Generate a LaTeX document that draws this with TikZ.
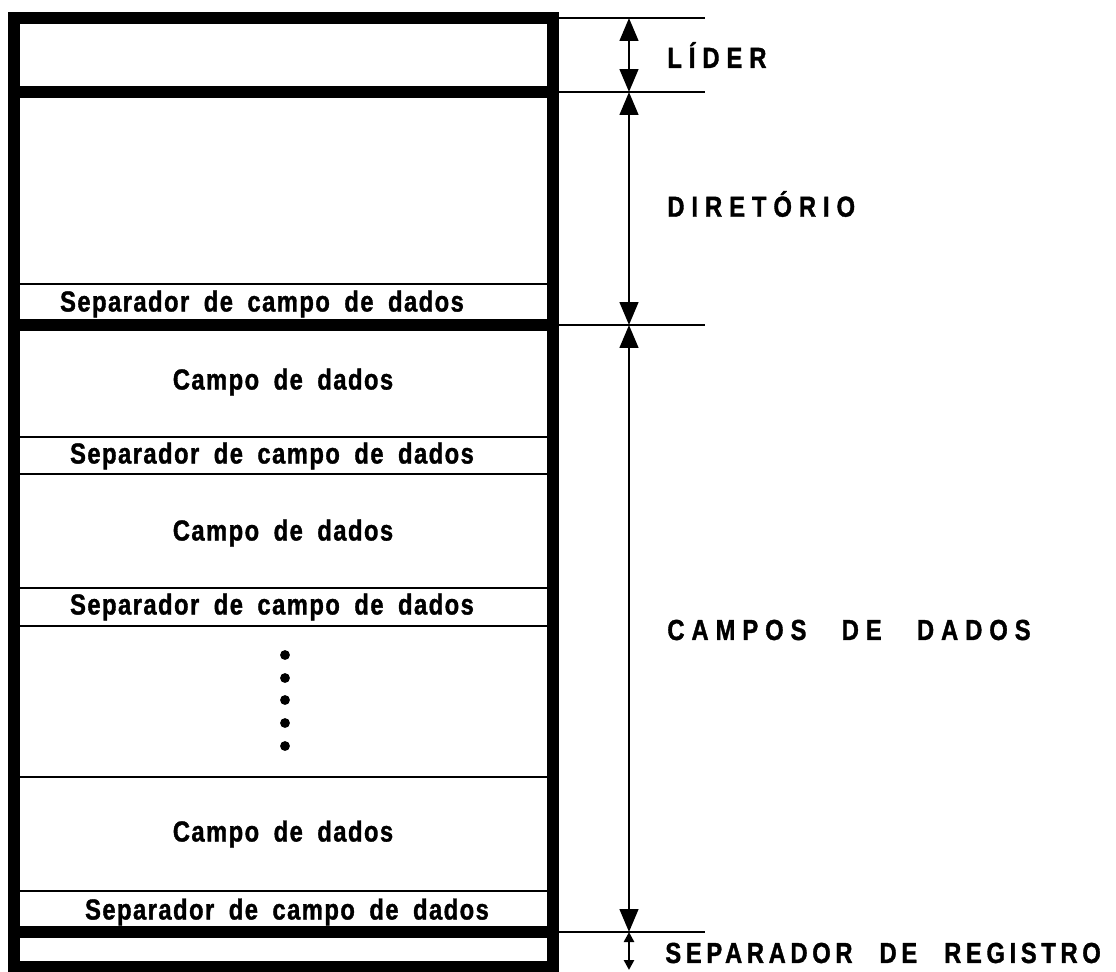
\documentclass[tikz,border=0pt]{standalone}
\usepackage{fontspec}
\setmainfont{Liberation Sans}
\newfontfamily\lettering[LetterSpace=5,WordSpace=1.8,FakeStretch=0.82,FakeBold=1.2]{Liberation Sans Bold}
\newfontfamily\widelettering[LetterSpace=24,WordSpace=2.6,FakeStretch=0.82,FakeBold=1.2]{Liberation Sans Bold}
\newfontfamily\narrowlettering[LetterSpace=16,WordSpace=2.4,FakeStretch=0.82,FakeBold=1.2]{Liberation Sans Bold}
\usetikzlibrary{arrows.meta}
\begin{document}
\begin{tikzpicture}[
   x=0.02cm,y=-0.02cm,
   frame/.style={line width=6.5pt},
   rule/.style={line width=1.6pt},
   dim/.style={{Triangle[length=13pt,width=10.5pt]}-{Triangle[length=13pt,width=10.5pt]},line width=1.6pt},
   smalldim/.style={{Triangle[length=5.7pt,width=5.7pt]}-{Triangle[length=5.7pt,width=5.7pt]},line width=1.6pt},
   entry/.style={inner sep=0pt,font=\lettering\fontsize{16.5}{19}\selectfont},
   part/.style={anchor=west,inner sep=0pt,font=\widelettering\fontsize{16.5}{19}\selectfont}]
\useasboundingbox (0,0) rectangle (1116,971);
% the record
\draw[frame] (14,18) rectangle (553,967);
\foreach \y in {92,325,932} \draw[frame] (14,\y) -- (553,\y);
\foreach \y in {284,437,474,588,626,777,891} \draw[rule] (14,\y) -- (553,\y);
\node[entry] (sep1) at (262,304) {Separador de campo de dados};
\node[entry] (campo1) at (283,382) {Campo de dados};
\node[entry] (sep2) at (272,456) {Separador de campo de dados};
\node[entry] (campo2) at (283,533) {Campo de dados};
\node[entry] (sep3) at (272,607) {Separador de campo de dados};
\foreach \y in {655,678,700,723,746} \fill (285,\y) circle[radius=2.8pt];
\node[entry] (campo3) at (283,834) {Campo de dados};
\node[entry] (sep4) at (287,912) {Separador de campo de dados};
% dimension lines
\foreach \y in {18,92,325,932} \draw[rule] (553,\y) -- (705,\y);
\coordinate (d0) at (629,18);
\coordinate (d1) at (629,92);
\coordinate (d2) at (629,325);
\coordinate (d3) at (629,932);
\coordinate (d4) at (629,970);
\draw[dim] (d0) -- (d1);
\draw[dim] (d1) -- (d2);
\draw[dim] (d2) -- (d3);
\draw[smalldim] (d3) -- (d4);
\node[part] (lider) at (667,55) {LÍDER};
\node[part] (diretorio) at (667,204) {DIRETÓRIO};
\node[part] (campos) at (667,630) {CAMPOS DE DADOS};
\node[part,font=\narrowlettering\fontsize{16.5}{19}\selectfont] (separador) at (665,953) {SEPARADOR DE REGISTRO};
\end{tikzpicture}
\end{document}
